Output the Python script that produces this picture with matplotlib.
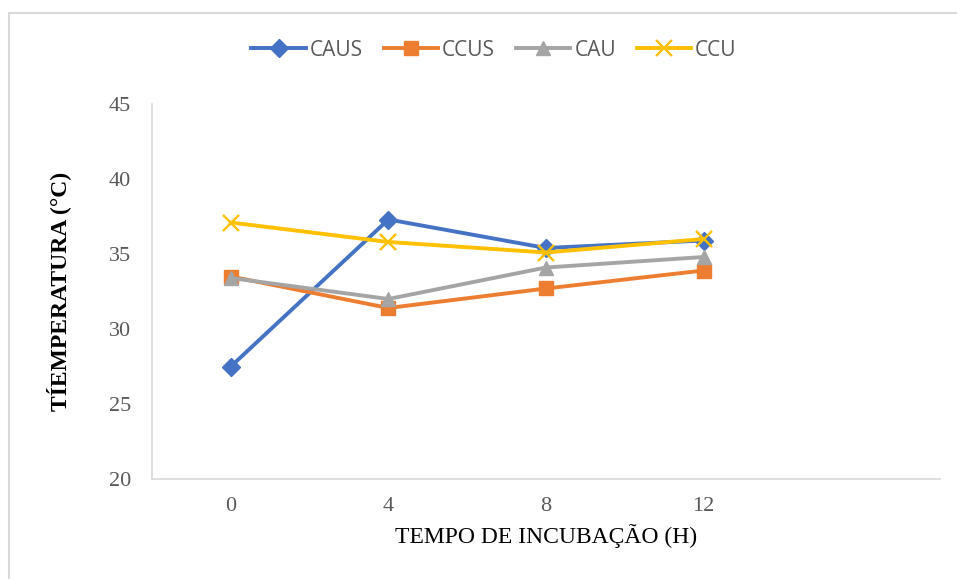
import matplotlib
matplotlib.use("Agg")
import matplotlib.pyplot as plt
from matplotlib.patches import Rectangle

# Incubation time categories (last slot left empty)
categories = ["0", "4", "8", "12", ""]

caus = [27.5, 37.3, 35.4, 35.9]
ccus = [33.5, 31.4, 32.7, 33.9]
cau = [33.4, 32.0, 34.1, 34.8]
ccu = [37.1, 35.8, 35.1, 36.0]

y_ticks = [20, 25, 30, 35, 40, 45]

fig = plt.figure(figsize=(9.57, 5.79), dpi=100)
fig.patch.set_facecolor("white")

# outer chart-area border
fig.patches.append(Rectangle((9 / 957, -0.05), 1.2, 1 - 13 / 579 + 0.05,
                             transform=fig.transFigure, fill=False,
                             edgecolor="#d9d9d9", linewidth=1.5))

ax = fig.add_axes([152 / 957, 1 - 479 / 579, (940 - 152) / 957, (479 - 104) / 579])

x = list(range(len(caus)))
series = [
    ("CAUS", caus, "#4472C4", "D", 9, None),
    ("CCUS", ccus, "#ED7D31", "s", 10, None),
    ("CAU", cau, "#A5A5A5", "^", 10, None),
    ("CCU", ccu, "#FFC000", "x", 11, 1.7),
]
for name, vals, col, mk, ms, mew in series:
    kw = dict(markeredgewidth=mew) if mew else {}
    ax.plot(x, vals, color=col, linewidth=2.8, marker=mk, markersize=ms,
            markerfacecolor=col, markeredgecolor=col, label=name, **kw)

ax.set_xlim(-0.5, len(categories) - 0.5)
ax.set_ylim(20, 45)
ax.set_xticks(range(len(categories)))
ax.set_xticklabels(categories)
ax.set_yticks(y_ticks)

for s in ["top", "right"]:
    ax.spines[s].set_visible(False)
for s in ["left", "bottom"]:
    ax.spines[s].set_color("#d9d9d9")
    ax.spines[s].set_linewidth(1.2)

ax.tick_params(axis="both", length=0, labelsize=16, labelcolor="#595959")
ax.tick_params(axis="x", pad=13)
ax.tick_params(axis="y", pad=15)
for lbl in ax.get_xticklabels() + ax.get_yticklabels():
    lbl.set_fontfamily("Liberation Serif")

ax.set_xlabel("TEMPO DE INCUBAÇÃO (H)", fontfamily="Liberation Serif",
              fontsize=17, color="black", labelpad=6)
ax.set_ylabel("TÍEMPERATURA (°C)", fontfamily="Liberation Serif",
              fontsize=17, fontweight="bold", color="black", labelpad=27)

leg = fig.legend(loc="center", bbox_to_anchor=(494 / 957, 1 - 50 / 579), ncol=4,
                 frameon=False, prop={"family": "Open Sans", "size": 15},
                 handlelength=2.6, columnspacing=1.0, handletextpad=0.2)
for t in leg.get_texts():
    t.set_color("#595959")

fig.savefig("out.png", dpi=100)
